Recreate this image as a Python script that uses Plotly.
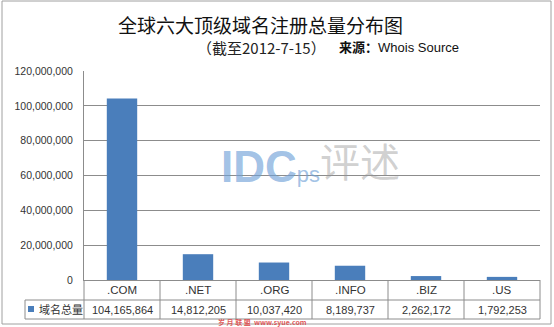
import plotly.graph_objects as go

categories = [".COM", ".NET", ".ORG", ".INFO", ".BIZ", ".US"]
values = [104165864, 14812205, 10037420, 8189737, 2262172, 1792253]
series_name = "域名总量"
tick_vals = [0, 20000000, 40000000, 60000000, 80000000, 100000000, 120000000]
tick_text = ["0", "20,000,000", "40,000,000", "60,000,000", "80,000,000", "100,000,000", "120,000,000"]
title_text = "全球六大顶级域名注册总量分布图"
subtitle_text = "（截至2012-7-15）"
source_text = "来源：Whois Source"

W, H = 554, 327
L, R, T, B = 84, 540, 71, 280


def px(x):
    return (x - L) / (R - L)


def py(y):
    return (B - y) / (B - T)


BAR = "#4a7ebb"
GRID = "#8c8c8c"
TXT = "#333333"

fig = go.Figure()
fig.add_trace(go.Bar(x=categories, y=values, marker=dict(color=BAR, line=dict(width=0)),
                     name=series_name, width=0.4, hoverinfo="x+y"))

shapes = []
line = dict(color="#8c8c8c", width=1)
for yy in (300, 319):
    shapes.append(dict(type="line", xref="paper", yref="paper", x0=px(25), x1=px(540),
                       y0=py(yy), y1=py(yy), line=line))
for k in range(7):
    xx = L + (R - L) / 6 * k
    shapes.append(dict(type="line", xref="paper", yref="paper", x0=px(xx), x1=px(xx),
                       y0=py(280), y1=py(319), line=line))
shapes.append(dict(type="line", xref="paper", yref="paper", x0=px(25), x1=px(25),
                   y0=py(300), y1=py(319), line=line))
shapes.append(dict(type="rect", xref="paper", yref="paper", x0=px(28), x1=px(34),
                   y0=py(312), y1=py(306), fillcolor=BAR, line=dict(width=0)))
shapes.append(dict(type="rect", xref="paper", yref="paper", x0=px(2), x1=px(551),
                   y0=py(324), y1=py(1), line=dict(color="#a0a0a0", width=1)))

annotations = []
for c, v in zip(categories, values):
    annotations.append(dict(x=c, xref="x", y=py(290), yref="paper", text=c, showarrow=False,
                            font=dict(family="Liberation Sans, Arial", size=11.5, color=TXT),
                            xanchor="center", yanchor="middle"))
    annotations.append(dict(x=c, xref="x", y=py(309.5), yref="paper", text=f"{v:,}", showarrow=False,
                            font=dict(family="Liberation Sans, Arial", size=11, color=TXT),
                            xanchor="center", yanchor="middle"))
annotations.append(dict(x=px(37), xref="paper", y=py(309), yref="paper", text=series_name,
                        showarrow=False, xanchor="left", yanchor="middle",
                        font=dict(family="Noto Sans CJK SC", size=11, color=TXT)))
annotations.append(dict(x=px(260), xref="paper", y=py(24), yref="paper", text=title_text,
                        showarrow=False, xanchor="center", yanchor="middle",
                        font=dict(family="Noto Sans CJK SC", size=19, color="#111111")))
annotations.append(dict(x=px(195), xref="paper", y=py(47), yref="paper", text=subtitle_text,
                        showarrow=False, xanchor="left", yanchor="middle",
                        font=dict(family="Noto Sans CJK SC", size=15, color="#222222")))
annotations.append(dict(x=px(337), xref="paper", y=py(47), yref="paper",
                        text="<b>来源：</b>Whois Source",
                        showarrow=False, xanchor="left", yanchor="middle",
                        font=dict(family="Liberation Sans, Noto Sans CJK SC", size=13, color="#111111")))
annotations.append(dict(x=px(219), xref="paper", y=py(166), yref="paper",
                        text="<b>IDC</b><span style='font-size:22px'>ps</span>",
                        showarrow=False, xanchor="left", yanchor="middle",
                        font=dict(family="Liberation Sans, Arial", size=44, color="rgba(110,160,215,0.65)")))
annotations.append(dict(x=px(360), xref="paper", y=py(160), yref="paper", text="评述",
                        showarrow=False, xanchor="center", yanchor="middle",
                        font=dict(family="Noto Sans CJK SC", size=40, color="rgba(150,150,150,0.45)")))
annotations.append(dict(x=px(262), xref="paper", y=py(321.8), yref="paper",
                        text="<b>岁 月 联 盟  www.syue.com</b>", borderpad=0,
                        showarrow=False, xanchor="center", yanchor="middle",
                        font=dict(family="Noto Sans CJK SC", size=7, color="rgba(220,60,60,0.85)")))

fig.update_layout(
    width=W, height=H,
    margin=dict(l=L, r=W - R, t=T, b=H - B),
    paper_bgcolor="white", plot_bgcolor="white",
    showlegend=False,
    bargap=0.6,
    shapes=shapes,
    annotations=annotations,
    xaxis=dict(showticklabels=False, showgrid=False, showline=True, linecolor=GRID,
               ticks="", zeroline=False, fixedrange=True),
    yaxis=dict(range=[0, 120000000], tickvals=tick_vals, ticktext=tick_text,
               showgrid=True, gridcolor=GRID, gridwidth=1, showline=True, linecolor=GRID,
               zeroline=False, ticks="outside", ticklen=8, tickcolor="white",
               tickfont=dict(family="Liberation Sans, Arial", size=10.5, color=TXT)),
)

fig.write_html("out.html")
